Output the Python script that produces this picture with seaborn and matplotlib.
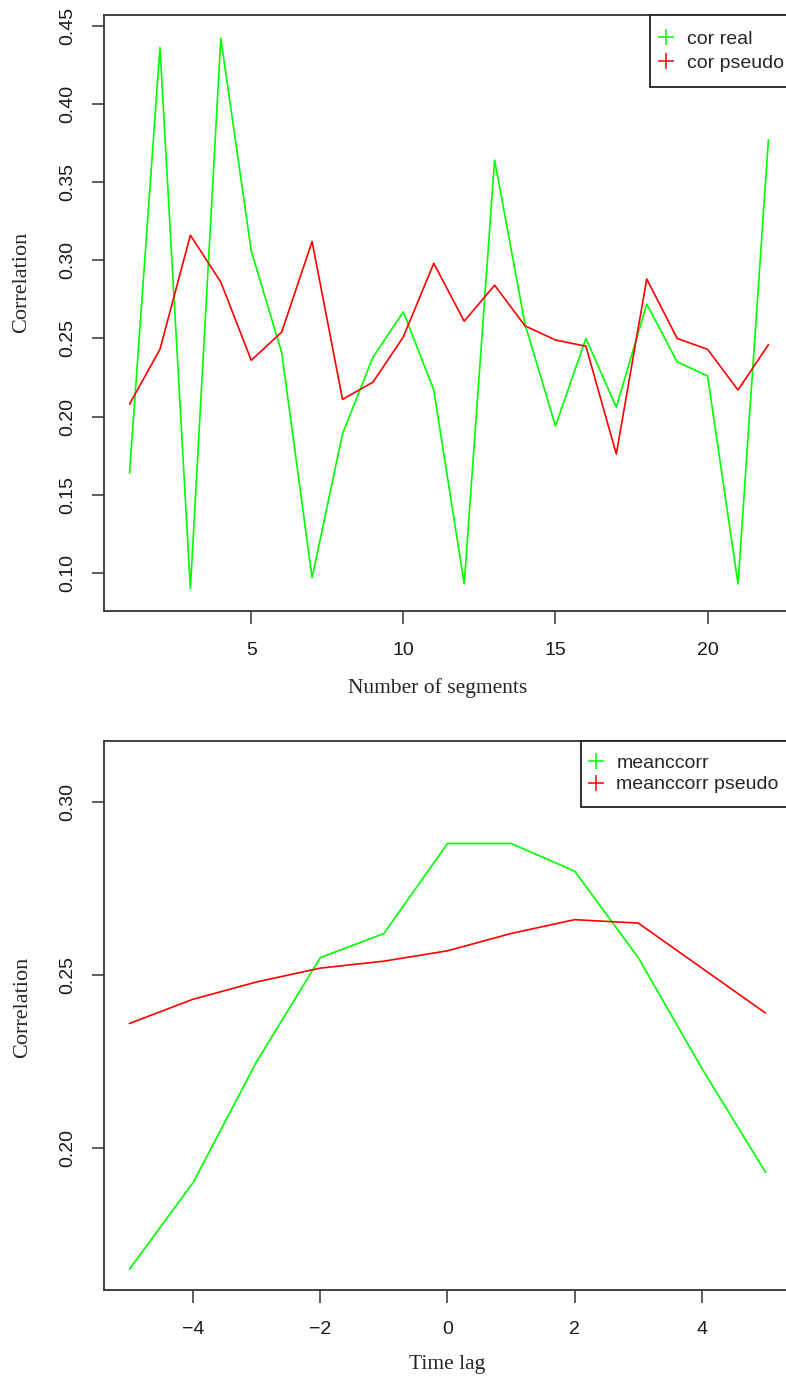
import seaborn as sns
import numpy as np
import pandas as pd
import matplotlib.pyplot as plt
from matplotlib.lines import Line2D

# data
segments = list(range(1, 23))
cor_real = [0.164, 0.436, 0.090, 0.442, 0.306, 0.241, 0.097, 0.189, 0.238, 0.267, 0.217,
            0.093, 0.364, 0.259, 0.194, 0.250, 0.206, 0.272, 0.235, 0.226, 0.093, 0.377]
cor_pseudo = [0.208, 0.243, 0.316, 0.286, 0.236, 0.254, 0.312, 0.211, 0.222, 0.251, 0.298,
              0.261, 0.284, 0.258, 0.249, 0.245, 0.176, 0.288, 0.250, 0.243, 0.217, 0.246]

lags = list(range(-5, 6))
meanccorr = [0.165, 0.190, 0.225, 0.255, 0.262, 0.288, 0.288, 0.280, 0.255, 0.223, 0.193]
meanccorr_pseudo = [0.236, 0.243, 0.248, 0.252, 0.254, 0.257, 0.262, 0.266, 0.265, 0.252, 0.239]

GREEN = "#00FF00"
RED = "#FF0000"

sns.set_style("white")
plt.rcParams['font.family'] = ['Liberation Sans', 'DejaVu Sans']

df1 = pd.DataFrame({"x": segments * 2,
                    "y": cor_real + cor_pseudo,
                    "serie": ["cor real"] * 22 + ["cor pseudo"] * 22})
df2 = pd.DataFrame({"x": lags * 2,
                    "y": meanccorr + meanccorr_pseudo,
                    "serie": ["meanccorr"] * 11 + ["meanccorr pseudo"] * 11})

fig = plt.figure(figsize=(7.86, 13.79), dpi=100)
ax1 = fig.add_axes([0.1323, 0.55693, 0.87786, 0.43219])
ax2 = fig.add_axes([0.1323, 0.06454, 0.87405, 0.39833])


def style_axes(ax, xlabel, ylab_xy, xlab_xy):
    for side in ["left", "bottom", "top"]:
        ax.spines[side].set_visible(True)
        ax.spines[side].set_color("#333333")
        ax.spines[side].set_linewidth(1.3)
    ax.spines["right"].set_visible(False)
    ax.tick_params(axis="both", direction="out", length=9, width=1.1,
                   color="#333333", labelsize=14, labelcolor="#1a1a1a", pad=11,
                   left=True, bottom=True)
    ax.tick_params(axis="x", pad=13)
    for lab in ax.get_yticklabels():
        lab.set_rotation(90)
        lab.set_va("center")
    ax.set_xlabel(xlabel, fontsize=15.5, family="Liberation Serif")
    ax.set_ylabel("Correlation", fontsize=16, family="Liberation Serif")
    ax.yaxis.set_label_coords(*ylab_xy)
    ax.xaxis.set_label_coords(*xlab_xy)
    ax.xaxis.label.set_va("center")
    ax.yaxis.label.set_va("center")


def plus_handles():
    return [Line2D([], [], color=GREEN, marker="+", linestyle="None", markersize=11, markeredgewidth=1.1),
            Line2D([], [], color=RED, marker="+", linestyle="None", markersize=11, markeredgewidth=1.1)]


# top panel
sns.lineplot(data=df1, x="x", y="y", hue="serie", palette=[GREEN, RED],
             linewidth=1.2, ax=ax1, legend=False)
ax1.set_xlim(0.16, 22.84)
ax1.set_ylim(0.0757, 0.4568)
ax1.set_xticks([5, 10, 15, 20])
ax1.set_yticks([0.10, 0.15, 0.20, 0.25, 0.30, 0.35, 0.40, 0.45])
ax1.set_yticklabels(["0.10", "0.15", "0.20", "0.25", "0.30", "0.35", "0.40", "0.45"])
style_axes(ax1, "Number of segments", (-0.119, 0.552), (0.484, -0.129))

leg1 = ax1.legend(plus_handles(), ["cor real", "cor pseudo"], loc="upper left",
                  bbox_to_anchor=(0.791, 1.0), borderaxespad=0, fontsize=14,
                  frameon=True, fancybox=False, framealpha=1, edgecolor="#222222",
                  handlelength=0.1, handletextpad=1.0, borderpad=0.8, labelspacing=0.3)
leg1.get_frame().set_linewidth(1.3)

# bottom panel
sns.lineplot(data=df2, x="x", y="y", hue="serie", palette=[GREEN, RED],
             linewidth=1.2, ax=ax2, legend=False)
ax2.set_xlim(-5.4, 5.4)
ax2.set_ylim(0.159, 0.3177)
ax2.set_xticks([-4, -2, 0, 2, 4])
ax2.set_xticklabels(["\u22124", "\u22122", "0", "2", "4"])
ax2.set_yticks([0.20, 0.25, 0.30])
ax2.set_yticklabels(["0.20", "0.25", "0.30"])
style_axes(ax2, "Time lag", (-0.119, 0.515), (0.499, -0.1365))

leg2 = ax2.legend(plus_handles(), ["meanccorr", "meanccorr pseudo"], loc="upper left",
                  bbox_to_anchor=(0.695, 1.0), borderaxespad=0, fontsize=14,
                  frameon=True, fancybox=False, framealpha=1, edgecolor="#222222",
                  handlelength=0.1, handletextpad=1.0, borderpad=0.7, labelspacing=0.2)
leg2.get_frame().set_linewidth(1.3)

fig.savefig("out.png", dpi=100)
